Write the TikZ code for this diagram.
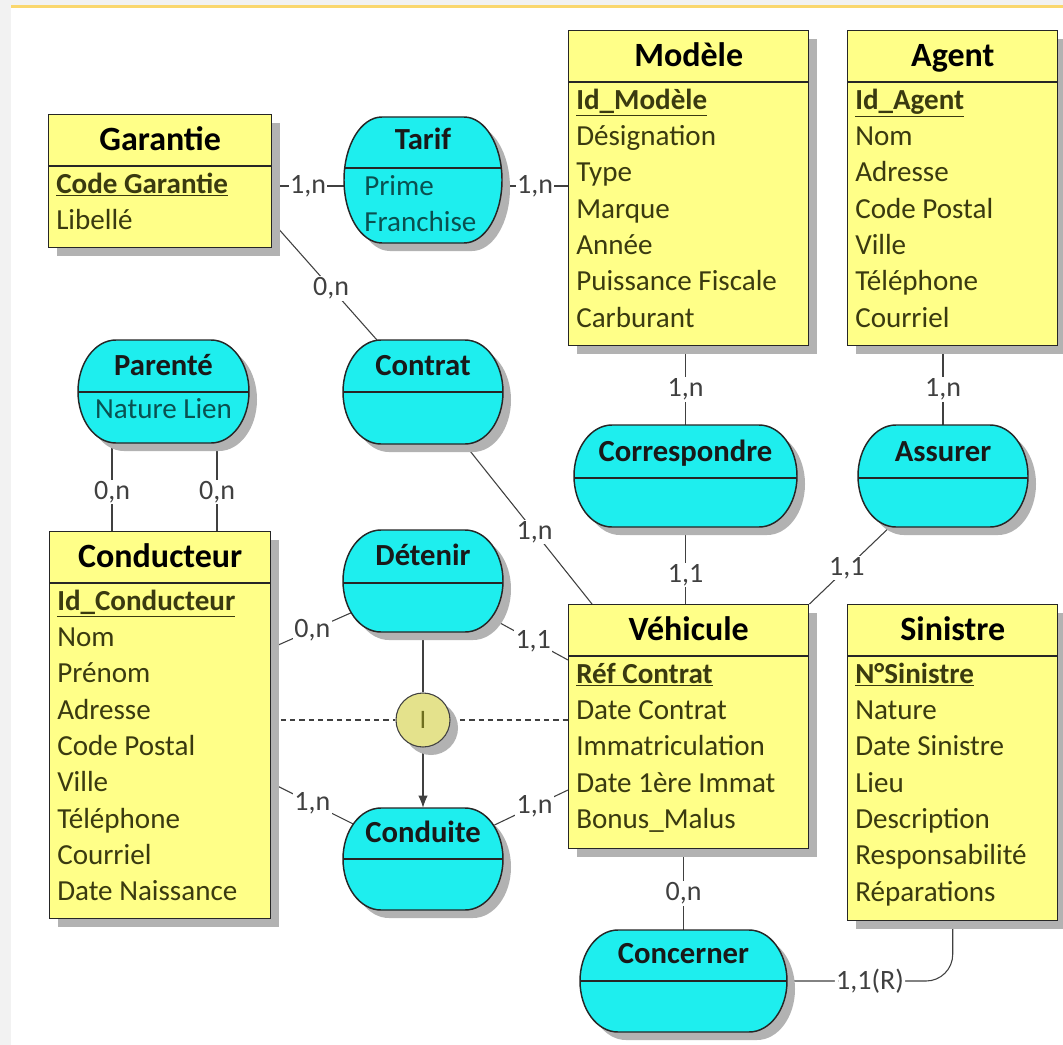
\documentclass[tikz,border=0pt]{standalone}
\usepackage{fontspec}
\setmainfont{Carlito}
\usepackage{tikz}
\usetikzlibrary{calc}
\usetikzlibrary{arrows.meta}
\usetikzlibrary{shadows}

\pgfdeclarelayer{bg}
\pgfsetlayers{bg,main}

\definecolor{entfill}{RGB}{255,255,136}
\definecolor{assocfill}{RGB}{30,238,238}
\definecolor{enttext}{RGB}{58,58,16}
\definecolor{assoctext}{RGB}{10,80,80}
\definecolor{cardtext}{RGB}{64,64,64}
\definecolor{cifill}{RGB}{228,226,140}
\definecolor{citext}{RGB}{110,110,30}
\definecolor{pagegray}{RGB}{242,242,242}
\definecolor{topline}{RGB}{250,215,110}
\definecolor{shadowgray}{RGB}{178,178,178}

\tikzset{
  boxshadow/.style={drop shadow={shadow xshift=6pt, shadow yshift=-6pt, fill=shadowgray, opacity=1}},
  entity/.style 2 args={draw=black!85, line width=1.1pt, fill=entfill, anchor=north west, inner sep=0,
    minimum width=#1*0.75pt, minimum height=#2*0.75pt, boxshadow},
  assocline/.style={draw=black!85, line width=1.1pt, fill=assocfill, boxshadow},
  assocbox/.style 2 args={inner sep=0, minimum width=#1*0.75pt, minimum height=#2*0.75pt},
  sepline/.style={draw=black!85, line width=1.1pt},
  enttitle/.style={font=\fontsize{25.5}{30}\selectfont\bfseries, text=black, text height=17pt, text depth=3pt},
  astitle/.style={font=\fontsize{23}{28}\selectfont\bfseries, text=black!90, text height=15pt, text depth=3pt},
  attr/.style={anchor=west, inner sep=0, text=enttext, font=\fontsize{21.8}{26}\selectfont, text height=14pt, text depth=3pt},
  asattr/.style={attr, text=assoctext},
  link/.style={draw=black!75, line width=0.8pt},
  card/.style={fill=white, inner sep=1pt, text=cardtext, font=\fontsize{21}{21}\selectfont},
  cinode/.style={circle, draw=black!75, line width=0.8pt, fill=cifill, minimum size=54*0.75pt, inner sep=0,
    text=citext, font=\fontsize{20}{20}\selectfont, boxshadow}
}

% capsule of an association: centre x, centre y, half width, half height, separator y
\newcommand{\assocshape}[5]{%
  \draw[assocline] (#1-#3+38,#2-#4) -- (#1+#3-38,#2-#4)
    arc[start angle=-90, end angle=90, x radius=38, y radius=#4]
    -- (#1-#3+38,#2+#4)
    arc[start angle=90, end angle=270, x radius=38, y radius=#4] -- cycle;
  \draw[sepline] (#1-#3,#5) -- (#1+#3,#5);}

\begin{document}
\begin{tikzpicture}[x=0.75pt,y=0.75pt,yscale=-1,xscale=1]
\useasboundingbox (0,0) rectangle (1063,1045);
\begin{pgfonlayer}{bg}
  \fill[white] (0,0) rectangle (1063,1045);
  \fill[pagegray] (0,0) rectangle (11,1045);
  \fill[pagegray] (0,0) rectangle (1063,5);
  \fill[topline] (11,5) rectangle (1063,8);
\end{pgfonlayer}

% Garantie
\node[entity={223}{133}] (garantie) at (48,114) {};
\draw[sepline] ($(garantie.north west)+(0,52)$) -- ($(garantie.north east)+(0,52)$);
\node[enttitle] at ($(garantie.north)+(0,27)$) {Garantie};
\node[attr] at (56,186) {\bfseries\underline{Code Garantie}};
\node[attr] at (56,222) {Libellé};

% Modele
\node[entity={240}{315}] (modele) at (568,30) {};
\draw[sepline] ($(modele.north west)+(0,52)$) -- ($(modele.north east)+(0,52)$);
\node[enttitle] at ($(modele.north)+(0,27)$) {Modèle};
\node[attr] at (576,102) {\bfseries\underline{Id\_Modèle}};
\foreach \a [count=\i] in {Désignation,Type,Marque,Année,Puissance Fiscale,Carburant}
  \node[attr] at (576,102+36.3*\i) {\a};

% Agent
\node[entity={210}{315}] (agent) at (847,30) {};
\draw[sepline] ($(agent.north west)+(0,52)$) -- ($(agent.north east)+(0,52)$);
\node[enttitle] at ($(agent.north)+(0,27)$) {Agent};
\node[attr] at (855,102) {\bfseries\underline{Id\_Agent}};
\foreach \a [count=\i] in {Nom,Adresse,Code Postal,Ville,Téléphone,Courriel}
  \node[attr] at (855,102+36.3*\i) {\a};

% Conducteur
\node[entity={221}{387}] (conducteur) at (49,531) {};
\draw[sepline] ($(conducteur.north west)+(0,52)$) -- ($(conducteur.north east)+(0,52)$);
\node[enttitle] at ($(conducteur.north)+(0,27)$) {Conducteur};
\node[attr] at (57,603) {\bfseries\underline{Id\_Conducteur}};
\foreach \a [count=\i] in {Nom,Prénom,Adresse,Code Postal,Ville,Téléphone,Courriel,Date Naissance}
  \node[attr] at (57,603+36.3*\i) {\a};

% Vehicule
\node[entity={240}{244}] (vehicule) at (568,604) {};
\draw[sepline] ($(vehicule.north west)+(0,52)$) -- ($(vehicule.north east)+(0,52)$);
\node[enttitle] at ($(vehicule.north)+(0,27)$) {Véhicule};
\node[attr] at (576,676) {\bfseries\underline{Réf Contrat}};
\foreach \a [count=\i] in {Date Contrat,Immatriculation,Date 1ère Immat,Bonus\_Malus}
  \node[attr] at (576,676+36.3*\i) {\a};

% Sinistre
\node[entity={210}{316}] (sinistre) at (847,604) {};
\draw[sepline] ($(sinistre.north west)+(0,52)$) -- ($(sinistre.north east)+(0,52)$);
\node[enttitle] at ($(sinistre.north)+(0,27)$) {Sinistre};
\node[attr] at (855,676) {\bfseries\underline{N°Sinistre}};
\foreach \a [count=\i] in {Nature,Date Sinistre,Lieu,Description,Responsabilité,Réparations}
  \node[attr] at (855,676+36.3*\i) {\a};

% associations
\assocshape{423}{180}{79}{63}{168}
\node[assocbox={158}{126}] (tarif) at (423,180) {};
\node[astitle] at (423,142) {Tarif};
\node[asattr] at (364,188) {Prime};
\node[asattr] at (364,224) {Franchise};

\assocshape{163.5}{391.5}{85.5}{51.5}{392}
\node[assocbox={171}{103}] (parente) at (163.5,391.5) {};
\node[astitle] at (163.5,367) {Parenté};
\node[asattr, anchor=center] at (163.5,411) {Nature Lien};

\assocshape{423}{392}{80}{52}{392}
\node[assocbox={160}{104}] (contrat) at (423,392) {};
\node[astitle] at (423,367) {Contrat};

\assocshape{685.5}{476}{111.5}{51}{478}
\node[assocbox={223}{102}] (correspondre) at (685.5,476) {};
\node[astitle] at (685.5,453) {Correspondre};

\assocshape{943}{476}{85}{51}{478}
\node[assocbox={170}{102}] (assurer) at (943,476) {};
\node[astitle] at (943,453) {Assurer};

\assocshape{423}{581}{80}{51}{583}
\node[assocbox={160}{102}] (detenir) at (423,581) {};
\node[astitle] at (423,557) {Détenir};

\assocshape{423}{859}{80}{51}{859}
\node[assocbox={160}{102}] (conduite) at (423,859) {};
\node[astitle] at (423,834) {Conduite};

\assocshape{683.5}{981}{103.5}{51}{981}
\node[assocbox={207}{102}] (concerner) at (683.5,981) {};
\node[astitle] at (683.5,955) {Concerner};

% inheritance circle
\node[cinode] (ci) at (423,720) {I};

% links
\begin{pgfonlayer}{bg}
  \draw[link] (garantie.east |- 0,186) -- node[card]{1,n} (tarif.west |- 0,186);
  \draw[link] (tarif.east |- 0,186) -- node[card]{1,n} (modele.west |- 0,186);
  \draw[link] (garantie.east |- 0,222) -- node[card, pos=0.39]{0,n} (contrat.center);
  \draw[link] (contrat.center) -- node[card, pos=0.66]{1,n} (vehicule.north -| 592,0);
  \draw[link] (112,0 |- parente.center) -- node[card, pos=0.72]{0,n} (112,0 |- conducteur.north);
  \draw[link] (217,0 |- parente.center) -- node[card, pos=0.72]{0,n} (217,0 |- conducteur.north);
  \draw[link] (modele.south -| correspondre.north) -- node[card, pos=0.55]{1,n} (correspondre.north);
  \draw[link] (correspondre.south) -- node[card, pos=0.62]{1,1} (vehicule.north -| correspondre.south);
  \draw[link] (agent.south -| assurer.north) -- node[card, pos=0.55]{1,n} (assurer.north);
  \draw[link] (assurer.center) -- node[card, pos=0.72]{1,1} (vehicule.north east);
  \draw[link] (conducteur.east |- 0,648) -- node[card, pos=0.27]{0,n} (detenir.center);
  \draw[link] (detenir.center) -- node[card, pos=0.76]{1,1} (vehicule.west |- 0,660);
  \draw[link] (conducteur.east |- 0,783) -- node[card, pos=0.27]{1,n} (conduite.center);
  \draw[link] (conduite.center) -- node[card, pos=0.77]{1,n} (vehicule.west |- 0,790);
  \draw[link] (detenir.south) -- (ci.north);
  \draw[link, -{Latex[length=9pt,width=7pt]}] (ci.south) -- (conduite.north);
  \draw[link, dash pattern=on 4pt off 3pt] (conducteur.east |- ci.west) -- (ci.west);
  \draw[link, dash pattern=on 4pt off 3pt] (ci.east) -- (vehicule.west |- ci.east);
  \draw[link] (vehicule.south -| concerner.north) -- node[card, pos=0.55]{0,n} (concerner.north);
  \draw[link, rounded corners=20] (concerner.east) -- node[card]{1,1(R)} (concerner.east -| sinistre.south) -- (sinistre.south);
\end{pgfonlayer}
\end{tikzpicture}
\end{document}
